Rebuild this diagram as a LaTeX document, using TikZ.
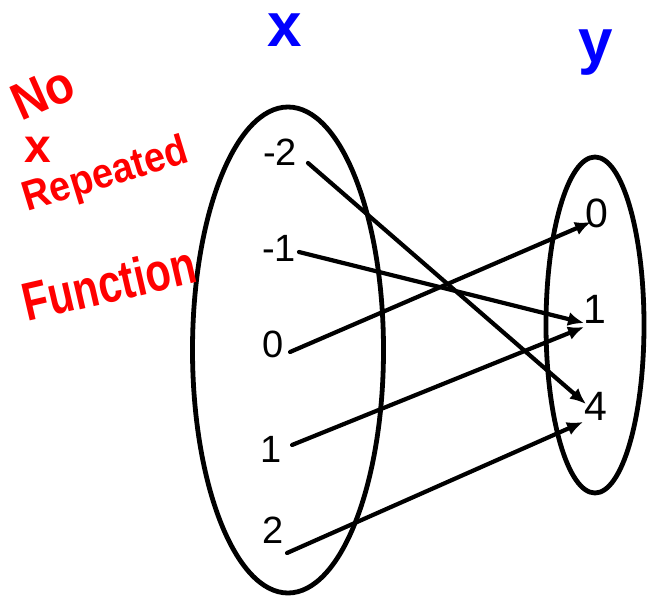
\documentclass[tikz,border=0pt]{standalone}
\usepackage{fontspec}
\setmainfont{Liberation Sans}
\usetikzlibrary{arrows.meta,shapes.geometric}
\definecolor{pen}{RGB}{255,0,0}
\definecolor{setblue}{RGB}{0,0,255}
\tikzset{
  setoval/.style={draw=black, line width=4.8pt, ellipse, inner sep=0pt},
  lnum/.style={anchor=base, inner sep=0pt, font=\fontsize{38}{40}\selectfont},
  rnum/.style={anchor=base, inner sep=0pt, font=\fontsize{41}{43}\selectfont},
  maparrow/.style={line width=4.2pt, line cap=round, -{Latex[length=16pt,width=14pt]}},
  setname/.style={anchor=base, inner sep=0pt, text height=34pt, text=setblue, font=\fontsize{62}{64}\selectfont\bfseries},
  note/.style={inner sep=0pt, text=pen, font=\bfseries}
}
\begin{document}
\begin{tikzpicture}[x=1pt,y=-1pt]
\useasboundingbox (0,0) rectangle (647,596);
% sets
\node[setoval, minimum width=191pt, minimum height=486pt] (X) at (288,350) {};
\node[setoval, minimum width=98pt, minimum height=336pt] (Y) at (595,325) {};
% set names
\node[setname] (xname) at (285,47) {x};
\node[setname] (yname) at (596,63) {y};
% domain
\node[lnum] (dm2) at (280,165) {-2};
\node[lnum] (dm1) at (279,261) {-1};
\node[lnum] (d0) at (273,357) {0};
\node[lnum] (d1) at (271,462) {1};
\node[lnum] (d2) at (273,543) {2};
% range
\node[rnum] (r0) at (597,227) {0};
\node[rnum] (r1) at (595,323) {1};
\node[rnum] (r4) at (596,420) {4};
% arrow ends
\coordinate (sm2) at (308,163);
\coordinate (sm1) at (299,252);
\coordinate (s0) at (290,352);
\coordinate (s1) at (292,445);
\coordinate (s2) at (287,553);
\coordinate (e4a) at (586,404);
\coordinate (e1a) at (584,323);
\coordinate (e0) at (591,222);
\coordinate (e1b) at (584,327);
\coordinate (e4b) at (583,422);
\draw[maparrow] (sm2) -- (e4a);
\draw[maparrow] (sm1) -- (e1a);
\draw[maparrow] (s0) -- (e0);
\draw[maparrow] (s1) -- (e1b);
\draw[maparrow] (s2) -- (e4b);
% handwritten notes
\node[note, rotate=24, font=\fontsize{52}{54}\selectfont\bfseries] (no) at (43,93) {\scalebox{0.9}[1]{No}};
\node[note, font=\fontsize{48}{50}\selectfont\bfseries] (xx) at (38,150) {x};
\node[note, rotate=17, font=\fontsize{42}{44}\selectfont\bfseries] (rep) at (106,176) {\scalebox{0.9}[1]{Repeated}};
\node[note, rotate=13, font=\fontsize{54}{56}\selectfont\bfseries] (fun) at (109,283) {\scalebox{0.77}[1]{Function}};
\end{tikzpicture}
\end{document}
